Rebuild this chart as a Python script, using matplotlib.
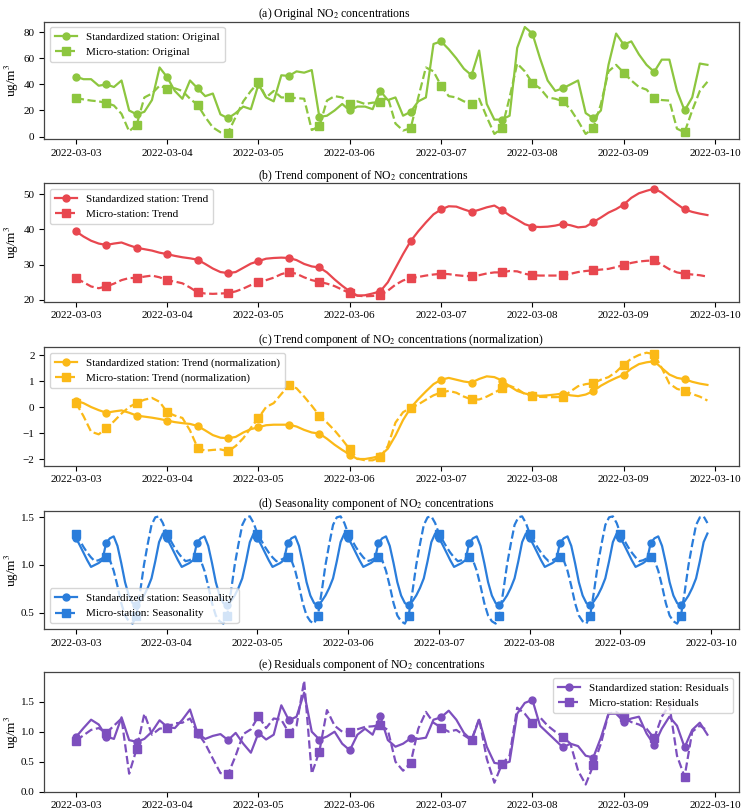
import numpy as np
import matplotlib
matplotlib.use("Agg")
import matplotlib.pyplot as plt
from matplotlib.ticker import MultipleLocator

plt.rcParams['font.family'] = ['Liberation Serif', 'DejaVu Serif']
plt.rcParams['mathtext.fontset'] = 'stix'

# ---- time axes ----
start = np.datetime64('2022-03-03T00:00')
t2h = start + np.arange(0, 168, 2).astype('timedelta64[h]')   # 2-hourly series
t1h = start + np.arange(0, 168, 1).astype('timedelta64[h]')   # hourly (seasonality)

tick_labels = ['2022-03-03', '2022-03-04', '2022-03-05', '2022-03-06',
               '2022-03-07', '2022-03-08', '2022-03-09', '2022-03-10']

# ---- (a) original ----
std_orig = [46, 44, 44, 39, 40, 38, 43, 20, 17, 19, 28, 53,
            45.5, 35, 29, 43, 37, 31, 33, 17, 14, 18, 23, 21,
            40, 30, 27, 47, 46.5, 50, 49, 51, 15, 16, 20, 25,
            20, 23, 23, 21, 35, 28, 30, 16, 19, 27, 30, 71,
            73, 67, 60, 52, 47, 66, 25, 13, 13, 16, 68, 84,
            79, 60, 43, 35, 37, 40, 43, 18, 14, 20, 55, 79,
            70.5, 73, 63, 55, 49.6, 59, 59, 35, 20, 30, 56, 55]
mic_orig = [29.6, 28.5, 27.6, 27, 25.8, 23.8, 17.4, 4, 9.2, 30, 33, 39,
            36.8, 37, 35, 29, 24.3, 15, 7, 3.3, 3, 15, 27, 35,
            41.7, 30, 35, 30, 30, 29.5, 29, 5, 8, 27.6, 31, 30,
            25, 27, 25, 26, 26.3, 30, 10, 4.6, 6.4, 30, 53, 50,
            39, 31, 30, 27, 25, 29, 15, 2, 6.4, 30, 56, 50,
            41, 37, 30, 29, 27, 21, 12, 2, 6.4, 25, 50, 55,
            49, 43, 38, 36, 29.6, 28, 27.6, 6, 3.3, 20, 35, 42]

# ---- (b) trend ----
std_trend = [39.5, 38, 36.8, 36, 35.6, 36, 36.3, 35.5, 34.8, 34.4, 34, 33.4,
             33, 32.5, 32.1, 31.8, 31.4, 30.2, 28.9, 27.9, 27.6, 27.9, 29.1, 30.3,
             31, 31.7, 31.9, 32, 31.9, 31.3, 30.2, 29.5, 29.2, 27.8, 25.8, 24,
             22.4, 21.2, 21.3, 21.8, 22.4, 25, 29, 33, 36.7, 39.5, 42, 44.3,
             45.7, 46.6, 46.5, 45.7, 45, 45.6, 46.3, 46.8, 45.5, 44, 42.8, 41.5,
             40.8, 40.7, 40.8, 41.1, 41.6, 41.2, 40.6, 40.8, 42.1, 43.4, 44.8, 45.8,
             47.1, 49, 50.3, 51, 51.6, 50.5, 48.8, 47.2, 45.7, 45, 44.5, 44.1]
mic_trend = [26.2, 25, 23.8, 23.3, 23.8, 24.6, 25.6, 26.2, 26.2, 26.6, 26.9, 26.4,
             25.5, 25.2, 24.7, 23.5, 22.1, 21.8, 21.7, 21.8, 21.9, 22.4, 23.2, 24.2,
             25, 25.6, 26.3, 27.3, 27.9, 27.4, 26.4, 25.6, 25.1, 24.6, 23.9, 22.9,
             21.9, 21.2, 21, 21.1, 21.4, 22.6, 24.3, 25.5, 26.2, 26.5, 26.9, 27.2,
             27.4, 27.3, 27, 26.8, 26.7, 27, 27.5, 27.8, 27.8, 28.2, 28.1, 27.4,
             27, 26.9, 26.9, 26.9, 27, 27.4, 27.9, 28.2, 28.4, 28.6, 28.8, 29.3,
             29.9, 30.5, 30.9, 31.1, 31.2, 30, 28.7, 27.8, 27.4, 27.2, 27, 26.6]

# ---- (c) trend normalized ----
std_norm = [0.24, 0.15, 0.0, -0.12, -0.22, -0.17, -0.13, -0.22, -0.33, -0.37, -0.41, -0.46,
            -0.52, -0.58, -0.62, -0.65, -0.73, -0.9, -1.08, -1.18, -1.2, -1.15, -0.98, -0.85,
            -0.78, -0.7, -0.68, -0.68, -0.68, -0.75, -0.88, -0.98, -1.02, -1.22, -1.45, -1.65,
            -1.83, -2.0, -2.0, -1.95, -1.88, -1.6, -1.1, -0.5, -0.03, 0.3, 0.6, 0.88,
            1.05, 1.12, 1.05, 0.98, 0.94, 1.08, 1.18, 1.15, 1.02, 0.8, 0.62, 0.52,
            0.46, 0.43, 0.45, 0.48, 0.52, 0.45, 0.42, 0.48, 0.61, 0.82, 0.98, 1.12,
            1.24, 1.48, 1.65, 1.72, 1.76, 1.5, 1.25, 1.12, 1.07, 0.97, 0.9, 0.85]
mic_norm = [0.16, -0.35, -0.95, -1.05, -0.82, -0.55, -0.25, 0.0, 0.16, 0.28, 0.35, 0.2,
            -0.2, -0.33, -0.42, -0.9, -1.57, -1.68, -1.65, -1.63, -1.7, -1.5, -1.2, -0.8,
            -0.42, 0.0, 0.15, 0.5, 0.84, 0.72, 0.4, 0.05, -0.33, -0.6, -0.9, -1.25,
            -1.63, -1.98, -2.05, -2.05, -1.93, -1.5, -0.6, -0.2, -0.03, 0.1, 0.28, 0.45,
            0.56, 0.62, 0.55, 0.4, 0.29, 0.29, 0.4, 0.55, 0.72, 0.82, 0.7, 0.5,
            0.42, 0.39, 0.38, 0.38, 0.39, 0.6, 0.8, 0.88, 0.92, 1.05, 1.15, 1.35,
            1.63, 1.86, 2.0, 2.09, 2.03, 1.5, 0.9, 0.7, 0.61, 0.5, 0.4, 0.25]

# ---- (d) seasonality: one daily (hourly) profile per station, repeating each day ----
std_season_day = [1.285, 1.21, 1.13, 1.05, 0.98, 1.0, 1.02, 1.05, 1.23, 1.28, 1.30, 1.2,
                  1.02, 0.82, 0.68, 0.6, 0.58, 0.62, 0.68, 0.76, 0.86, 1.04, 1.24, 1.33]
mic_season_day = [1.33, 1.26, 1.19, 1.13, 1.08, 1.04, 1.05, 1.07, 1.085, 1.05, 0.94, 0.78,
                  0.6, 0.47, 0.41, 0.385, 0.47, 0.72, 1.0, 1.22, 1.42, 1.5, 1.51, 1.44]
n_days = 7
std_season = np.tile(std_season_day, n_days)
mic_season = np.tile(mic_season_day, n_days)

# ---- (e) residuals ----
std_resid = [0.91, 1.06, 1.2, 1.12, 0.92, 0.88, 1.24, 0.86, 0.83, 0.88, 1.0, 1.19,
             1.08, 1.06, 1.2, 1.37, 0.97, 0.88, 0.93, 0.96, 0.86, 0.98, 0.8, 0.65,
             0.98, 0.87, 0.95, 1.44, 1.19, 1.25, 1.65, 1.0, 0.87, 0.92, 1.0, 0.8,
             0.69, 0.95, 1.05, 0.95, 1.26, 0.86, 0.75, 0.8, 0.89, 0.88, 0.9, 1.2,
             1.24, 1.35, 1.2, 0.98, 0.86, 1.2, 0.75, 0.48, 0.46, 0.5, 1.3, 1.48,
             1.53, 1.1, 0.98, 0.86, 0.74, 0.8, 0.76, 0.6, 0.57, 0.9, 1.3, 1.3,
             1.17, 1.22, 1.25, 0.97, 0.78, 1.05, 1.25, 1.1, 0.74, 1.03, 1.15, 0.95]
mic_resid = [0.85, 0.94, 1.03, 1.06, 0.98, 1.1, 1.22, 0.3, 0.72, 1.3, 0.95, 1.05,
             1.07, 1.14, 1.15, 1.22, 0.98, 0.8, 0.55, 0.31, 0.29, 0.6, 0.96, 1.04,
             1.26, 1.06, 1.22, 1.2, 0.98, 1.1, 1.85, 0.3, 0.67, 1.36, 1.1, 1.0,
             1.0, 1.04, 1.08, 1.09, 1.11, 1.03, 0.5, 0.35, 0.48, 1.05, 1.33, 1.15,
             1.07, 1.0, 1.03, 0.94, 0.86, 1.22, 0.55, 0.15, 0.46, 0.6, 1.4, 1.3,
             1.14, 1.24, 1.1, 1.0, 0.92, 0.8, 0.35, 0.12, 0.44, 0.8, 1.3, 1.33,
             1.24, 1.16, 1.12, 1.05, 0.89, 1.25, 1.45, 0.6, 0.25, 1.0, 1.1, 1.02]

unit = r'ug/m$^3$'
panels = [
    dict(title=r'(a) Original NO$_2$ concentrations', color='#8dc63f',
         t=t2h, s=std_orig, m=mic_orig, me=4, major=20, ylim=None, ylabel=unit,
         ls='Standardized station: Original', lm='Micro-station: Original', loc='upper left'),
    dict(title=r'(b) Trend component of NO$_2$ concentrations', color='#e8474f',
         t=t2h, s=std_trend, m=mic_trend, me=4, major=10, ylim=None, ylabel=unit,
         ls='Standardized station: Trend', lm='Micro-station: Trend', loc='upper left'),
    dict(title=r'(c) Trend component of NO$_2$ concentrations (normalization)', color='#fbb917',
         t=t2h, s=std_norm, m=mic_norm, me=4, major=1, ylim=None, ylabel=None,
         ls='Standardized station: Trend (normalization)', lm='Micro-station: Trend (normalization)',
         loc='upper left'),
    dict(title=r'(d) Seasonality component of NO$_2$ concentrations', color='#2a7ddb',
         t=t1h, s=std_season, m=mic_season, me=8, major=0.5, ylim=None, ylabel=unit,
         ls='Standardized station: Seasonality', lm='Micro-station: Seasonality', loc='lower left'),
    dict(title=r'(e) Residuals component of NO$_2$ concentrations', color='#7d4fbe',
         t=t2h, s=std_resid, m=mic_resid, me=4, major=0.5, ylim=(0.0, 1.99), ylabel=unit,
         ls='Standardized station: Residuals', lm='Micro-station: Residuals', loc='upper right'),
]

W, H = 747, 809
fig = plt.figure(figsize=(W / 100, H / 100), dpi=100)
left_px, right_px = 44.3, 739
tops = [21.7, 183.3, 347.3, 511, 672.3]
bots = [139.3, 301.7, 465.7, 629, 791.7]

tick_dates = [np.datetime64(d + 'T00:00') for d in tick_labels]

for p, tp, bp in zip(panels, tops, bots):
    ax = fig.add_axes([left_px / W, 1 - bp / H, (right_px - left_px) / W, (bp - tp) / H])
    ax.plot(p['t'], p['s'], '-', color=p['color'], lw=1.6, marker='o', ms=5,
            markevery=p['me'], label=p['ls'])
    ax.plot(p['t'], p['m'], '--', color=p['color'], lw=1.6, marker='s', ms=5.5,
            markevery=p['me'], label=p['lm'])
    ax.set_xticks(tick_dates)
    ax.set_xticklabels(tick_labels)
    ax.yaxis.set_major_locator(MultipleLocator(p['major']))
    if p['ylim'] is not None:
        ax.set_ylim(*p['ylim'])
    ax.tick_params(labelsize=8, length=3.5, width=0.8)
    if p['ylabel']:
        ax.set_ylabel(p['ylabel'], fontsize=9.5)
        ax.yaxis.set_label_coords((21 - left_px) / (right_px - left_px), 0.5)
    for sp in ax.spines.values():
        sp.set_color('#444444')
        sp.set_linewidth(0.9)
    ax.text((258 - left_px) / (right_px - left_px), 1 + 4.5 / (bp - tp), p['title'],
            transform=ax.transAxes, ha='left', va='baseline', fontsize=8.5)
    ax.legend(loc=p['loc'], fontsize=8, handlelength=2.0, borderpad=0.45, labelspacing=0.5)

fig.savefig('out.png', dpi=100)
